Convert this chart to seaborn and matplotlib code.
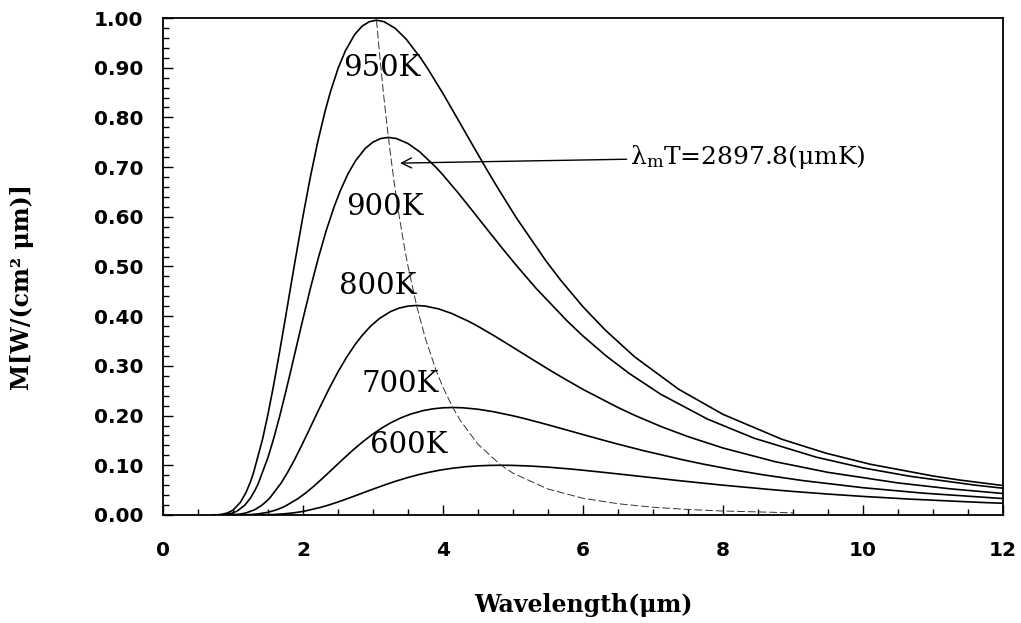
import numpy as np
import pandas as pd
import matplotlib
matplotlib.use("Agg")
import matplotlib.pyplot as plt
from matplotlib.ticker import MultipleLocator, FormatStrFormatter
import seaborn as sns

# Spectral radiant exitance M [W/(cm^2 um)] of a blackbody at several temperatures
wl_950 = [0.7105, 0.7895, 0.8421, 0.9211, 1.0000, 1.1052, 1.1841, 1.2500, 1.2895,
          1.4210, 1.5000, 1.5789, 1.6578, 1.7368, 1.8421, 1.8947, 2.0000, 2.1052,
          2.2105, 2.3157, 2.3947, 2.5000, 2.6051, 2.7368, 2.8420, 2.9473, 3.0504,
          3.1578, 3.3157, 3.4736, 3.6842, 3.7893, 4.0003, 4.2104, 4.4210, 4.6315,
          4.7894, 5.0525, 5.4736, 5.6840, 6.0004, 6.3157, 6.7368, 7.3684, 8.0001,
          8.8423, 9.4733, 10.1047, 11.0001, 11.3675, 12.0]
m_950 = [0.0001, 0.0006, 0.0014, 0.0041, 0.0099, 0.0254, 0.0448, 0.0671, 0.0832,
         0.1518, 0.2030, 0.2602, 0.3221, 0.3866, 0.4742, 0.5174, 0.6016, 0.6800,
         0.7508, 0.8126, 0.8528, 0.8982, 0.9339, 0.9665, 0.9833, 0.9926, 0.9956,
         0.9926, 0.9794, 0.9576, 0.9187, 0.8964, 0.8479, 0.7966, 0.7448, 0.6936,
         0.6564, 0.5969, 0.5107, 0.4719, 0.4189, 0.3724, 0.3183, 0.2529, 0.2025,
         0.1523, 0.1243, 0.1021, 0.0785, 0.0706, 0.0593]

wl_900 = [0.7500, 0.8334, 0.8889, 0.9723, 1.0556, 1.1667, 1.2500, 1.3195, 1.3612,
          1.5000, 1.5833, 1.6667, 1.7500, 1.8334, 1.9445, 2.0000, 2.1112, 2.2223,
          2.3334, 2.4445, 2.5279, 2.6390, 2.7500, 2.8890, 3.0000, 3.1111, 3.2199,
          3.3334, 3.5000, 3.6667, 3.8890, 4.0000, 4.2227, 4.4445, 4.6668, 4.8890,
          5.0557, 5.3335, 5.7779, 6.0000, 6.3340, 6.6668, 7.1113, 7.7780, 8.4449,
          9.3339, 10.0000, 10.6665, 11.6117, 12.0]
m_900 = [0.0001, 0.0004, 0.0010, 0.0031, 0.0076, 0.0194, 0.0342, 0.0512, 0.0635,
         0.1159, 0.1549, 0.1986, 0.2458, 0.2950, 0.3619, 0.3949, 0.4591, 0.5189,
         0.5730, 0.6201, 0.6508, 0.6855, 0.7127, 0.7376, 0.7504, 0.7575, 0.7598,
         0.7575, 0.7474, 0.7308, 0.7011, 0.6841, 0.6470, 0.6079, 0.5684, 0.5294,
         0.5009, 0.4555, 0.3898, 0.3601, 0.3197, 0.2842, 0.2429, 0.1930, 0.1545,
         0.1163, 0.0948, 0.0780, 0.0599, 0.0539]

wl_800 = [0.8437, 0.9375, 1.0000, 1.0938, 1.1875, 1.3125, 1.4062, 1.4844, 1.5313,
          1.6875, 1.7812, 1.8750, 1.9687, 2.0625, 2.1875, 2.2500, 2.3750, 2.5000,
          2.6250, 2.7500, 2.8438, 2.9688, 3.0937, 3.2500, 3.3749, 3.5000, 3.6224,
          3.7500, 3.9374, 4.1250, 4.3751, 4.4998, 4.7504, 5.0000, 5.2500, 5.5000,
          5.6875, 6.0000, 6.5000, 6.7499, 7.1256, 7.5000, 8.0000, 8.7501, 9.5003,
          10.5004, 11.2498, 12.0]
m_800 = [0.0000, 0.0002, 0.0006, 0.0017, 0.0042, 0.0108, 0.0190, 0.0284, 0.0352,
         0.0643, 0.0860, 0.1102, 0.1364, 0.1637, 0.2008, 0.2191, 0.2548, 0.2880,
         0.3179, 0.3441, 0.3611, 0.3804, 0.3955, 0.4093, 0.4164, 0.4203, 0.4216,
         0.4203, 0.4147, 0.4055, 0.3891, 0.3796, 0.3590, 0.3373, 0.3154, 0.2937,
         0.2780, 0.2527, 0.2163, 0.1998, 0.1774, 0.1577, 0.1348, 0.1071, 0.0858,
         0.0645, 0.0526, 0.0433]

wl_700 = [0.9643, 1.0714, 1.1428, 1.2500, 1.3571, 1.5000, 1.6070, 1.6964, 1.7500,
          1.9285, 2.0356, 2.1428, 2.2499, 2.3571, 2.5000, 2.5713, 2.7143, 2.8571,
          3.0000, 3.1428, 3.2500, 3.3929, 3.5356, 3.7143, 3.8570, 3.9999, 4.1398,
          4.2857, 4.4999, 4.7142, 5.0000, 5.1426, 5.4290, 5.7142, 6.0000, 6.2856,
          6.5000, 6.8571, 7.4285, 7.7140, 8.1434, 8.5713, 9.1428, 10.0000, 10.8573,
          12.0]
m_700 = [0.0000, 0.0001, 0.0003, 0.0009, 0.0022, 0.0055, 0.0097, 0.0146, 0.0181,
         0.0330, 0.0441, 0.0565, 0.0700, 0.0840, 0.1030, 0.1124, 0.1307, 0.1477,
         0.1631, 0.1765, 0.1853, 0.1951, 0.2029, 0.2100, 0.2136, 0.2157, 0.2163,
         0.2157, 0.2128, 0.2080, 0.1996, 0.1948, 0.1842, 0.1731, 0.1618, 0.1507,
         0.1426, 0.1297, 0.1110, 0.1025, 0.0910, 0.0809, 0.0692, 0.0549, 0.0440,
         0.0331]

wl_600 = [1.1250, 1.3333, 1.5834, 1.7500, 1.8749, 1.9792, 2.0417, 2.2500, 2.3750,
          2.5000, 2.6250, 2.7500, 2.9167, 3.0000, 3.1667, 3.3333, 3.5001, 3.6667,
          3.7917, 3.9584, 4.1249, 4.3334, 4.5000, 4.6667, 4.8298, 5.0000, 5.2499,
          5.5000, 5.8334, 5.9998, 6.3339, 6.6667, 7.0000, 7.3333, 7.5833, 8.0000,
          8.6668, 9.0000, 9.5008, 10.0000, 10.6668, 11.6668, 12.0]
m_600 = [0.0000, 0.0001, 0.0010, 0.0026, 0.0045, 0.0067, 0.0084, 0.0153, 0.0204,
         0.0262, 0.0324, 0.0389, 0.0477, 0.0520, 0.0605, 0.0684, 0.0755, 0.0817,
         0.0857, 0.0903, 0.0939, 0.0972, 0.0989, 0.0998, 0.1001, 0.0998, 0.0985,
         0.0963, 0.0924, 0.0901, 0.0852, 0.0801, 0.0749, 0.0697, 0.0660, 0.0600,
         0.0514, 0.0474, 0.0421, 0.0374, 0.0320, 0.0254, 0.0236]

temperatures = ["950K", "900K", "800K", "700K", "600K"]
wl_series = [wl_950, wl_900, wl_800, wl_700, wl_600]
m_series = [m_950, m_900, m_800, m_700, m_600]

# Locus of the spectral peaks (Wien displacement law)
peak_wavelength = [3.05, 3.10, 3.15, 3.20, 3.25, 3.30, 3.375, 3.45, 3.5, 3.625,
                   3.75, 3.9, 4.0, 4.14, 4.25, 4.5, 4.83, 5.0, 5.5, 6.0, 6.5,
                   7.0, 7.5, 8.0, 9.0]
peak_m = [0.9956, 0.9183, 0.8477, 0.7835, 0.7255, 0.6718, 0.6005, 0.5379, 0.5006,
          0.4200, 0.3545, 0.2914, 0.2568, 0.2162, 0.1897, 0.1422, 0.1000, 0.0841,
          0.0522, 0.0337, 0.0227, 0.0156, 0.0111, 0.0080, 0.0044]

# Curve label anchor points
label_x = [3.13, 3.17, 3.06, 3.39, 3.51]
label_y = [0.90, 0.62, 0.46, 0.264, 0.141]

annotation_text = r"λ$_\mathrm{m}$T=2897.8(μmK)"

df = pd.concat(
    [pd.DataFrame({"wavelength": w, "M": m, "T": t})
     for w, m, t in zip(wl_series, m_series, temperatures)],
    ignore_index=True,
)
peaks = pd.DataFrame({"wavelength": peak_wavelength, "M": peak_m})

sns.set_theme(style="ticks")
plt.rcParams["font.family"] = ["DejaVu Sans"]
plt.rcParams["mathtext.fontset"] = "dejavuserif"
plt.rcParams["text.color"] = "black"
plt.rcParams["axes.labelcolor"] = "black"
plt.rcParams["xtick.color"] = "black"
plt.rcParams["ytick.color"] = "black"

fig = plt.figure(figsize=(10.21, 6.23), dpi=100)
ax = fig.add_axes([163 / 1021, 1 - 515 / 623, 840 / 1021, 497 / 623])

sns.lineplot(data=df, x="wavelength", y="M", hue="T", palette=["black"] * 5,
             estimator=None, sort=False, legend=False, linewidth=1.2, ax=ax)
sns.lineplot(data=peaks, x="wavelength", y="M", color="#333333", estimator=None,
             sort=False, legend=False, linewidth=0.7, ax=ax)
ax.lines[-1].set_linestyle((0, (8, 3)))

for name, x, y in zip(temperatures, label_x, label_y):
    ax.text(x, y, name, family="DejaVu Serif", fontsize=21, ha="center",
            va="center", color="black")

ax.annotate(annotation_text, xy=(3.386, 0.708), xytext=(6.67, 0.72),
            family="DejaVu Serif", fontsize=18, ha="left", va="center",
            color="black",
            arrowprops=dict(arrowstyle="->", color="black", lw=1.0,
                            shrinkA=0, shrinkB=0, mutation_scale=18),
            annotation_clip=False)
# the arrow tail sits a little to the left of the text
ax.texts[-1].arrow_patch.set_positions((6.24, 0.65), (3.386, 0.708))

ax.set_xlim(0, 12)
ax.set_ylim(0, 1.0)
ax.xaxis.set_major_locator(MultipleLocator(2))
ax.xaxis.set_minor_locator(MultipleLocator(0.5))
ax.yaxis.set_major_locator(MultipleLocator(0.1))
ax.yaxis.set_minor_locator(MultipleLocator(0.02))
ax.yaxis.set_major_formatter(FormatStrFormatter("%.2f"))

ax.tick_params(axis="both", which="both", direction="in", top=False, right=False,
               color="black", labelcolor="black", width=1.0)
ax.tick_params(axis="both", which="major", length=7, labelsize=14.5)
ax.tick_params(axis="both", which="minor", length=4)
ax.tick_params(axis="x", which="major", pad=19)
ax.tick_params(axis="y", which="major", pad=14)
for lab in ax.get_xticklabels() + ax.get_yticklabels():
    lab.set_fontweight("bold")

for side in ["left", "right", "top", "bottom"]:
    ax.spines[side].set_visible(True)
    ax.spines[side].set_linewidth(1.3)
    ax.spines[side].set_color("black")

ax.set_xlabel("Wavelength(μm)", family="DejaVu Serif", fontweight="bold",
              fontsize=17, color="black")
ax.set_ylabel("M[W/(cm² μm)]", family="DejaVu Serif", fontweight="bold",
              fontsize=17, color="black")
ax.xaxis.label.set(va="center", ha="center")
ax.yaxis.label.set(va="center", ha="center")
ax.xaxis.set_label_coords(0.5, (515 - 605) / 497)
ax.yaxis.set_label_coords((22 - 163) / 840, (515 - 287) / 497)

fig.savefig("out.png", dpi=100, facecolor="white")
